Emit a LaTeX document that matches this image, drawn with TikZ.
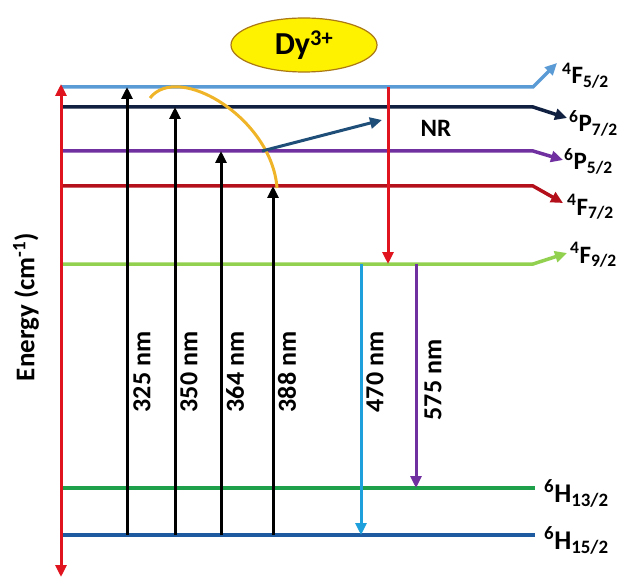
\documentclass[tikz,border=0pt]{standalone}
\usepackage{fontspec}
\setmainfont{Carlito}
\usetikzlibrary{arrows.meta,shapes.geometric}
\definecolor{cA}{RGB}{91,155,213}
\definecolor{cB}{RGB}{16,32,64}
\definecolor{cC}{RGB}{112,48,160}
\definecolor{cD}{RGB}{180,16,28}
\definecolor{cE}{RGB}{146,208,80}
\definecolor{cF}{RGB}{30,160,75}
\definecolor{cG}{RGB}{30,90,160}
\definecolor{axred}{RGB}{224,20,30}
\definecolor{gold}{RGB}{240,180,40}
\definecolor{steel}{RGB}{31,78,121}
\definecolor{cyanarr}{RGB}{30,160,220}
\definecolor{ellline}{RGB}{170,120,20}
\begin{document}
\begin{tikzpicture}[x=1pt,y=-1pt,
  lvl/.style={line width=3.5pt},
  tipa/.style={-{Triangle[length=12pt,width=11pt]}},
  tipb/.style={-{Triangle[length=12pt,width=11pt]}},
  arr/.style={line width=3pt,tipb},
  lab/.style={font=\fontsize{25}{30}\selectfont\bfseries,anchor=base west,inner sep=0pt},
  labh/.style={font=\fontsize{27}{30}\selectfont\bfseries,anchor=base west,inner sep=0pt},
  wl/.style={font=\fontsize{26}{30}\selectfont\bfseries,rotate=90,inner sep=0pt}]
\useasboundingbox (0,0) rectangle (620,577);
% ellipse
\node[ellipse,draw=ellline,fill=yellow,line width=1.2pt,minimum width=146pt,minimum height=54pt,inner sep=0pt,
  font=\fontsize{32}{36}\selectfont\bfseries] (dy) at (304,45) {Dy\textsuperscript{3+}};
% level coordinates
\coordinate (a1) at (61,87);  \coordinate (a2) at (533,87);  \coordinate (a3) at (557,63);
\coordinate (b1) at (61,107); \coordinate (b2) at (533,107); \coordinate (b3) at (567,118);
\coordinate (c1) at (61,151); \coordinate (c2) at (533,151); \coordinate (c3) at (563,160);
\coordinate (d1) at (61,186); \coordinate (d2) at (533,186); \coordinate (d3) at (563,203);
\coordinate (e1) at (61,264); \coordinate (e2) at (533,264); \coordinate (e3) at (567,253);
\coordinate (f1) at (61,488); \coordinate (f2) at (535,488);
\coordinate (g1) at (61,535); \coordinate (g2) at (535,535);
% levels
\draw[lvl,cA,tipa] (a1) -- (a2) -- (a3);
\draw[lvl,cB,tipa] (b1) -- (b2) -- (b3);
\draw[lvl,cC,tipa] (c1) -- (c2) -- (c3);
\draw[lvl,cD,tipa] (d1) -- (d2) -- (d3);
\draw[lvl,cE,tipa] (e1) -- (e2) -- (e3);
\draw[lvl,cF] (f1) -- (f2);
\draw[lvl,cG] (g1) -- (g2);
% level labels
\node[lab] (la) at (562,84) {\textsuperscript{4}F\textsubscript{5/2}};
\node[lab] (lb) at (569,132) {\textsuperscript{6}P\textsubscript{7/2}};
\node[lab] (lc) at (564,170) {\textsuperscript{6}P\textsubscript{5/2}};
\node[lab] (ld) at (567,215) {\textsuperscript{4}F\textsubscript{7/2}};
\node[lab] (le) at (570,263) {\textsuperscript{4}F\textsubscript{9/2}};
\node[labh] (lf) at (544,502) {\textsuperscript{6}H\textsubscript{13/2}};
\node[labh] (lg) at (544,549) {\textsuperscript{6}H\textsubscript{15/2}};
% energy axis
\coordinate (axb) at (61,577);
\coordinate (axt) at (61,84);
\draw[axred,line width=3pt,{Triangle[length=12pt,width=11pt]}-{Triangle[length=12pt,width=11pt]}] (axb) -- (axt);
\node[font=\fontsize{27}{30}\selectfont\bfseries,rotate=90,inner sep=0pt] (en) at (26,307) {Energy (cm\textsuperscript{-1})};
% excitation arrows
\coordinate (x1b) at (127,535); \coordinate (x1t) at (127,87);
\coordinate (x2b) at (175,535); \coordinate (x2t) at (175,107);
\coordinate (x3b) at (221,535); \coordinate (x3t) at (221,151);
\coordinate (x4b) at (273,535); \coordinate (x4t) at (273,186);
\draw[arr,black] (x1b) -- (x1t);
\draw[arr,black] (x2b) -- (x2t);
\draw[arr,black] (x3b) -- (x3t);
\draw[arr,black] (x4b) -- (x4t);
\node[wl] (t1) at (142,372) {325 nm};
\node[wl] (t2) at (189,372) {350 nm};
\node[wl] (t3) at (235,372) {364 nm};
\node[wl] (t4) at (287,372) {388 nm};
% yellow curve
\coordinate (ys) at (150,98);
\coordinate (ye) at (277,188);
\draw[gold,line width=3pt] (ys) .. controls (178,62) and (272,118) .. (ye);
% NR
\coordinate (ns) at (262,151);
\coordinate (nt) at (382,120);
\draw[steel,line width=3pt,-{Triangle[length=12pt,width=11pt]}] (ns) -- (nt);
\node[font=\fontsize{25}{28}\selectfont\bfseries,inner sep=0pt] (nr) at (436,128) {NR};
\coordinate (rt) at (388,87);
\coordinate (rb) at (388,264);
\draw[axred,arr] (rt) -- (rb);
% emission
\coordinate (m1t) at (361,264); \coordinate (m1b) at (361,535);
\coordinate (m2t) at (416,264); \coordinate (m2b) at (416,488);
\draw[cyanarr,arr] (m1t) -- (m1b);
\draw[cC,arr] (m2t) -- (m2b);
\node[wl] (t5) at (375,372) {470 nm};
\node[wl] (t6) at (433,380) {575 nm};
\end{tikzpicture}
\end{document}
